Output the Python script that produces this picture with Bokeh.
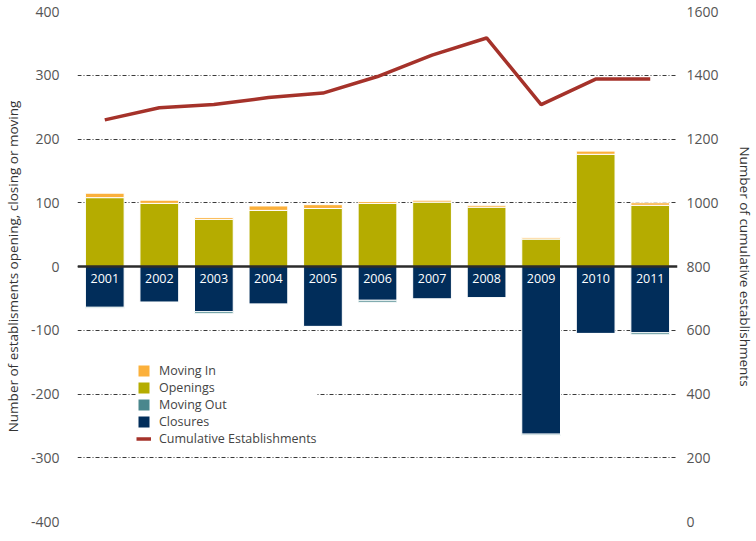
from bokeh.plotting import figure
from bokeh.models import (ColumnDataSource, Range1d, LinearAxis, FixedTicker,
                          Span, Legend, LegendItem, FactorRange, CustomJSTickFormatter)
from bokeh.core.properties import value
from bokeh.embed import file_html
from bokeh.resources import INLINE

years = ["2001", "2002", "2003", "2004", "2005", "2006", "2007", "2008", "2009", "2010", "2011"]
moving_in = [7, 5, 3, 7, 6, 3, 3, 3, 2, 5, 4]
openings = [108, 99, 74, 88, 91, 99, 101, 93, 43, 176, 96]
moving_out = [2, 0.5, 3, 0.5, 1, 3, 0.5, 0.5, 2, 0.5, 3]
closures = [64, 56, 71, 59, 94, 53, 51, 49, 263, 105, 104]
cumulative = [1260, 1298, 1308, 1330, 1344, 1396, 1463, 1517, 1308, 1388, 1388]

left_ticks = [-400, -300, -200, -100, 0, 100, 200, 300, 400]
right_ticks = [0, 200, 400, 600, 800, 1000, 1200, 1400, 1600]

C_IN = "#FBB03B"
C_OPEN = "#B5AC00"
C_OUT = "#4A878D"
C_CLOSE = "#012D5A"
C_LINE = "#A5322A"
FONT = "Open Sans"

src = ColumnDataSource(dict(
    year=years,
    moving_in=moving_in,
    openings=openings,
    moving_out_neg=[-v for v in moving_out],
    closures_neg=[-v for v in closures],
    cumulative=cumulative,
))

p = figure(width=756, height=541, x_range=FactorRange(factors=years),
           y_range=Range1d(-400, 400), output_backend="svg", toolbar_location=None,
           min_border_left=75, min_border_right=76, min_border_top=11, min_border_bottom=20)
p.outline_line_color = None
p.background_fill_color = "white"
p.border_fill_color = "white"

p.extra_y_ranges = {"cum": Range1d(0, 1600)}

# grid
p.xgrid.visible = False
p.ygrid.ticker = FixedTicker(ticks=left_ticks)
p.ygrid.grid_line_color = "#3a3a3a"
p.ygrid.grid_line_dash = "4 2 1 2"
p.ygrid.grid_line_width = 1

# bars
pos = p.vbar_stack(["openings", "moving_in"], x="year", width=0.71, source=src,
                   color=[C_OPEN, C_IN], line_color="white", line_width=1)
neg = p.vbar_stack(["closures_neg", "moving_out_neg"], x="year", width=0.71, source=src,
                   color=[C_CLOSE, C_OUT], line_color="white", line_width=1)

# zero line
p.add_layout(Span(location=0, dimension="width", line_color="#2b2b2b", line_width=2.5))

# year labels inside bars
p.text(x="year", y=-18.5, text="year", source=src, text_color="white",
       text_font=value(FONT), text_font_size="12.5px", text_align="center",
       text_baseline="middle")

# cumulative line
ln = p.line(x="year", y="cumulative", source=src, y_range_name="cum",
            line_color=C_LINE, line_width=3.5)

fmt = CustomJSTickFormatter(code="return tick.toFixed(0);")

# axes
p.xaxis.visible = False
ya = p.yaxis[0]
ya.ticker = FixedTicker(ticks=left_ticks)
ya.formatter = fmt
ya.axis_line_color = None
ya.major_tick_line_color = None
ya.minor_tick_line_color = None
ya.major_label_standoff = 12
ya.major_label_text_font = FONT
ya.major_label_text_font_size = "14px"
ya.major_label_text_color = "#555555"
ya.axis_label = "Number of establisments opening, closing or moving"
ya.axis_label_text_font = FONT
ya.axis_label_text_font_size = "13.5px"
ya.axis_label_text_font_style = "normal"
ya.axis_label_text_color = "#333333"
ya.axis_label_standoff = 6

ra = LinearAxis(y_range_name="cum", ticker=FixedTicker(ticks=right_ticks), formatter=fmt)
ra.axis_line_color = None
ra.major_tick_line_color = None
ra.minor_tick_line_color = None
ra.major_label_standoff = 3
ra.major_label_text_font = FONT
ra.major_label_text_font_size = "14px"
ra.major_label_text_color = "#555555"
ra.axis_label = "Number of cumulative establishments"
ra.axis_label_text_font = FONT
ra.axis_label_text_font_size = "13.5px"
ra.axis_label_text_font_style = "normal"
ra.axis_label_text_color = "#333333"
ra.axis_label_standoff = 14
p.add_layout(ra, "right")

legend = Legend(items=[
    LegendItem(label="Moving In", renderers=[pos[1]]),
    LegendItem(label="Openings", renderers=[pos[0]]),
    LegendItem(label="Moving Out", renderers=[neg[1]]),
    LegendItem(label="Closures", renderers=[neg[0]]),
    LegendItem(label="Cumulative Establishments", renderers=[ln]),
], location=(59, 74))
legend.label_text_font = FONT
legend.label_text_font_size = "12.5px"
legend.label_text_color = "#444444"
legend.glyph_width = 15
legend.glyph_height = 15
legend.label_height = 15
legend.spacing = 0
legend.label_standoff = 8
legend.padding = 11
legend.margin = 0
legend.border_line_color = None
legend.background_fill_color = "white"
legend.background_fill_alpha = 1
p.add_layout(legend, "center")

open("out.html", "w").write(file_html(p, INLINE))
